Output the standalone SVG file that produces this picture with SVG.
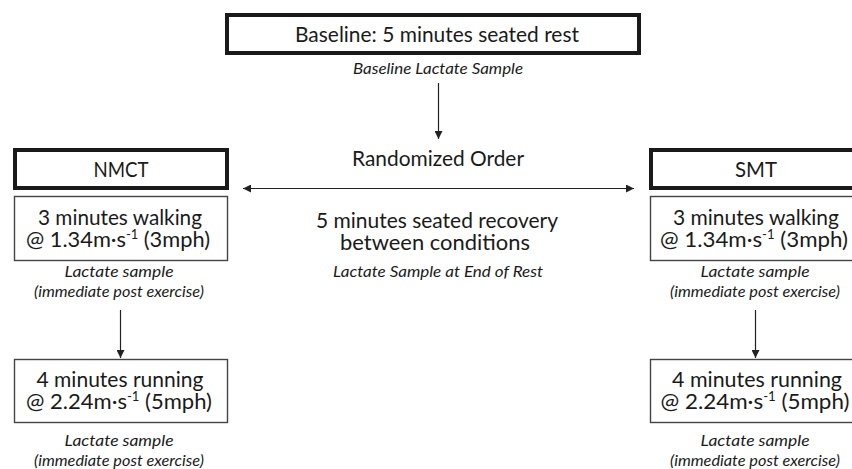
<svg xmlns="http://www.w3.org/2000/svg" width="852" height="469" viewBox="0 0 852 469">
<defs>
<style>
.t{font-family:Lato,"Open Sans","Liberation Sans",sans-serif;font-size:22px;fill:#1a1a1a;text-anchor:middle}
.i{font-family:Lato,"Open Sans","Liberation Sans",sans-serif;font-size:15px;font-style:italic;fill:#1a1a1a;text-anchor:middle}
.thick{fill:#fff;stroke:#1a1a1a;stroke-width:4}
.thin{fill:#fff;stroke:#444;stroke-width:1.4}
.ln{stroke:#222;stroke-width:1.2;fill:none}
.sup{font-size:13px}
</style>
<marker id="ah" viewBox="0 0 10 10" refX="10" refY="5" markerWidth="8" markerHeight="8" markerUnits="userSpaceOnUse" orient="auto-start-reverse">
<path d="M0,0 L10,5 L0,10 z" fill="#222"/>
</marker>
</defs>
<rect width="852" height="469" fill="#fff"/>

<g id="baseline">
<rect class="thick" x="227" y="15" width="412" height="38"/>
<text class="t" x="437" y="42" textLength="284" lengthAdjust="spacingAndGlyphs">Baseline: 5 minutes seated rest</text>
<text class="i" x="438" y="74" textLength="170" lengthAdjust="spacingAndGlyphs">Baseline Lactate Sample</text>
</g>

<g id="randomized">
<text class="t" x="438" y="166" textLength="172" lengthAdjust="spacingAndGlyphs">Randomized Order</text>
<text class="t" x="437" y="228" textLength="242" lengthAdjust="spacingAndGlyphs">5 minutes seated recovery</text>
<text class="t" x="435" y="250" textLength="190" lengthAdjust="spacingAndGlyphs">between conditions</text>
<text class="i" x="438" y="277" textLength="210" lengthAdjust="spacingAndGlyphs">Lactate Sample at End of Rest</text>
</g>

<g id="nmct">
<rect class="thick" x="15" y="150" width="212" height="38"/>
<text class="t" x="121" y="177" textLength="55" lengthAdjust="spacingAndGlyphs">NMCT</text>
</g>

<g id="nmct-walk">
<rect class="thin" x="14.5" y="196.5" width="213" height="64"/>
<text class="t" x="120" y="225" textLength="164" lengthAdjust="spacingAndGlyphs">3 minutes walking</text>
<text class="t" x="118" y="247" textLength="184" lengthAdjust="spacingAndGlyphs">@ 1.34m·s<tspan class="sup" dy="-8">-1</tspan><tspan dy="8"> (3mph)</tspan></text>
<text class="i" x="119" y="277" textLength="109" lengthAdjust="spacingAndGlyphs">Lactate sample</text>
<text class="i" x="119" y="297" textLength="170" lengthAdjust="spacingAndGlyphs">(immediate post exercise)</text>
</g>

<g id="nmct-run">
<rect class="thin" x="14.5" y="359.5" width="213" height="63"/>
<text class="t" x="120" y="387" textLength="167" lengthAdjust="spacingAndGlyphs">4 minutes running</text>
<text class="t" x="119" y="409" textLength="186" lengthAdjust="spacingAndGlyphs">@ 2.24m·s<tspan class="sup" dy="-8">-1</tspan><tspan dy="8"> (5mph)</tspan></text>
<text class="i" x="119" y="446" textLength="109" lengthAdjust="spacingAndGlyphs">Lactate sample</text>
<text class="i" x="119" y="466" textLength="170" lengthAdjust="spacingAndGlyphs">(immediate post exercise)</text>
</g>

<g id="smt">
<rect class="thick" x="651" y="150" width="212" height="38"/>
<text class="t" x="756" y="177" textLength="42" lengthAdjust="spacingAndGlyphs">SMT</text>
</g>

<g id="smt-walk">
<rect class="thin" x="650.5" y="196.5" width="213" height="64"/>
<text class="t" x="756" y="225" textLength="166" lengthAdjust="spacingAndGlyphs">3 minutes walking</text>
<text class="t" x="754" y="247" textLength="188" lengthAdjust="spacingAndGlyphs">@ 1.34m·s<tspan class="sup" dy="-8">-1</tspan><tspan dy="8"> (3mph)</tspan></text>
<text class="i" x="755" y="277" textLength="109" lengthAdjust="spacingAndGlyphs">Lactate sample</text>
<text class="i" x="755" y="297" textLength="170" lengthAdjust="spacingAndGlyphs">(immediate post exercise)</text>
</g>

<g id="smt-run">
<rect class="thin" x="650.5" y="359.5" width="213" height="63"/>
<text class="t" x="757" y="387" textLength="170" lengthAdjust="spacingAndGlyphs">4 minutes running</text>
<text class="t" x="755" y="409" textLength="189" lengthAdjust="spacingAndGlyphs">@ 2.24m·s<tspan class="sup" dy="-8">-1</tspan><tspan dy="8"> (5mph)</tspan></text>
<text class="i" x="755" y="446" textLength="109" lengthAdjust="spacingAndGlyphs">Lactate sample</text>
<text class="i" x="755" y="466" textLength="170" lengthAdjust="spacingAndGlyphs">(immediate post exercise)</text>
</g>

<g id="connectors">
<line class="ln" x1="438.5" y1="83" x2="438.5" y2="139" marker-end="url(#ah)"/>
<line class="ln" x1="243" y1="188.5" x2="634" y2="188.5" marker-start="url(#ah)" marker-end="url(#ah)"/>
<line class="ln" x1="120.5" y1="310" x2="120.5" y2="358" marker-end="url(#ah)"/>
<line class="ln" x1="755.5" y1="310" x2="755.5" y2="358" marker-end="url(#ah)"/>
</g>
</svg>
